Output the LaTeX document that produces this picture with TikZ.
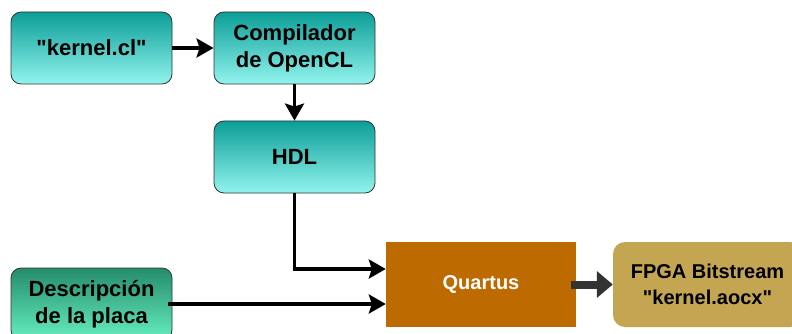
\documentclass[tikz,border=0pt]{standalone}
\usepackage{fontspec}
\setmainfont{Liberation Sans}
\usetikzlibrary{arrows.meta}
\definecolor{tealtop}{RGB}{12,158,152}
\definecolor{tealbot}{RGB}{146,244,237}
\definecolor{greentop}{RGB}{36,140,108}
\definecolor{greenbot}{RGB}{102,238,192}
\definecolor{quartuscol}{RGB}{189,106,0}
\definecolor{fpgacol}{RGB}{196,165,82}
\definecolor{arrowgray}{RGB}{51,51,51}
\tikzset{
  srcbox/.style={draw=black!80, line width=0.8pt, rounded corners=10pt,
    minimum width=161pt, minimum height=72pt, inner sep=0pt, align=center,
    font=\fontsize{22}{27}\selectfont\bfseries},
  tealbox/.style={srcbox, top color=tealtop, bottom color=tealbot},
  greenbox/.style={srcbox, top color=greentop, bottom color=greenbot},
  flow/.style={line width=3.6pt, -{Stealth[length=17pt,width=19pt,inset=3pt]}}
}
\begin{document}
\begin{tikzpicture}[x=1pt,y=-1pt]
\useasboundingbox (0,0) rectangle (792,334);
\node [tealbox] (kernel) at (91.5,48) {\textquotedbl kernel.cl\textquotedbl};
\node [tealbox] (comp) at (294.5,48) {Compilador\\de OpenCL};
\node [tealbox] (hdl) at (294.5,157) {HDL};
\node [greenbox] (desc) at (91.5,304) {Descripción\\de la placa};
\node [fill=quartuscol, minimum width=190pt, minimum height=85pt, inner sep=0pt,
  text=white, font=\fontsize{20}{24}\selectfont\bfseries] (quartus) at (481,284.5) {Quartus};
\node [fill=fpgacol, rounded corners=12pt, minimum width=189pt, minimum height=85pt,
  inner sep=0pt, align=center, font=\fontsize{20}{26}\selectfont\bfseries]
  (fpga) at (707.5,284.5) {FPGA Bitstream\\\textquotedbl kernel.aocx\textquotedbl};
% connectors
\draw [flow] (kernel.east) -- (comp.west);
\draw [flow] (comp.south) -- (hdl.north);
\draw [flow, line cap=butt] (hdl.south) |- ([yshift=15.5pt]quartus.west);
\draw [flow] ([xshift=-4pt]desc.east) -- (desc.east -| quartus.west);
\draw [arrowgray, line width=8pt, -{Triangle[length=16pt,width=26pt]}]
  ([xshift=-5pt]quartus.east) -- (fpga.west);
\end{tikzpicture}
\end{document}
